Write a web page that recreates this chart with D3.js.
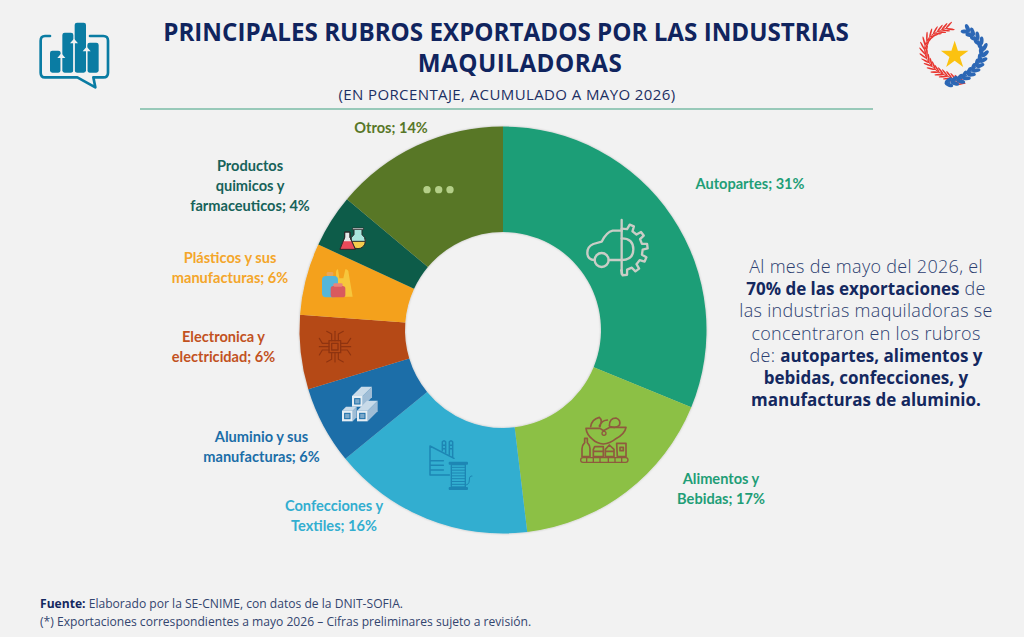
<!DOCTYPE html>
<html>
<head>
<meta charset="utf-8">
<title>Principales rubros exportados</title>
<script src="https://d3js.org/d3.v7.min.js"></script>
<style>
  html, body { margin: 0; padding: 0; background: #f2f2f2; }
  svg { display: block; }
  text { font-family: Lato, sans-serif; }
  .title { font-family: "Open Sans", sans-serif; font-weight: 700; font-size: 24.2px; fill: #10245e; text-anchor: middle; }
  .title2 { letter-spacing: 0.5px; }
  .subtitle { font-family: "Open Sans", sans-serif; font-size: 15px; letter-spacing: 0.4px; fill: #1c2f63; text-anchor: middle; }
  .label { font-weight: 700; font-size: 14.6px; text-anchor: middle; }
  .note { font-family: "Open Sans", sans-serif; font-size: 18px; letter-spacing: 0.3px; fill: #2c3e70; text-anchor: middle; font-weight: 300; }
  .note .b { font-weight: 700; font-size: 17px; letter-spacing: 0; fill: #14285f; }
  .foot { font-family: "Open Sans", sans-serif; font-size: 12.1px; fill: #33456f; }
  .foot .b { font-weight: 700; fill: #14285f; }
</style>
</head>
<body>
<svg id="main" width="1024" height="637"></svg>
<script>
// chart values (labels show them rounded)
const categories = ['Autopartes', 'Alimentos y Bebidas', 'Confecciones y Textiles', 'Aluminio y sus manufacturas',
  'Electronica y electricidad', 'Plásticos y sus manufacturas', 'Productos quimicos y farmaceuticos', 'Otros'];
const values = [31.2, 16.9, 16.0, 6.2, 5.9, 5.7, 4.2, 13.9];
const sliceColors = ['#1f9e77', '#8cc044', '#33aed0', '#1b6ea8', '#b54a16', '#f4a11a', '#0f5c4a', '#587728'];
const labelColors = ['#1f9e77', '#1f9e77', '#33aed0', '#1b6ea8', '#c2521f', '#f4a62a', '#17625a', '#587728'];
const labelLines = [['Autopartes;'], ['Alimentos y', 'Bebidas;'], ['Confecciones y', 'Textiles;'], ['Aluminio y sus', 'manufacturas;'],
  ['Electronica y', 'electricidad;'], ['Plásticos y sus', 'manufacturas;'], ['Productos', 'quimicos y', 'farmaceuticos;'], ['Otros;']];
const labelAnchors = [[750, 188.5], [721, 483.5], [334, 510.5], [261.5, 441.5], [223.5, 341.5], [230, 262.5], [250, 170.5], [391, 132.5]];

const noteLines = [
  [['Al mes de mayo del 2026, el', 0]],
  [['70% de las exportaciones', 1], [' de', 0]],
  [['las industrias maquiladoras se', 0]],
  [['concentraron en los rubros', 0]],
  [['de: ', 0], ['autopartes, alimentos y', 1]],
  [['bebidas, confecciones, y', 1]],
  [['manufacturas de aluminio.', 1]]
];

const svg = d3.select('svg#main');
const cx = 503, cy = 330, outerR = 203.5, innerR = 98;

// header
svg.append('text').attr('class', 'title').attr('x', 506).attr('y', 41).text('PRINCIPALES RUBROS EXPORTADOS POR LAS INDUSTRIAS');
svg.append('text').attr('class', 'title title2').attr('x', 520).attr('y', 72).text('MAQUILADORAS');
svg.append('text').attr('class', 'subtitle').attr('x', 507).attr('y', 100).text('(EN PORCENTAJE, ACUMULADO A MAYO 2026)');
svg.append('line').attr('x1', 140).attr('x2', 873).attr('y1', 109).attr('y2', 109)
  .attr('stroke', '#3f9f80').attr('stroke-width', 1.2);

// donut
const defs = svg.append('defs');
const shadow = defs.append('filter').attr('id', 'shadow').attr('x', '-10%').attr('y', '-10%').attr('width', '120%').attr('height', '120%');
shadow.append('feDropShadow').attr('dx', 0).attr('dy', 0).attr('stdDeviation', 1.2).attr('flood-color', '#000').attr('flood-opacity', 0.25);

const pie = d3.pie().sort(null).value(d => d);
const arc = d3.arc().innerRadius(innerR).outerRadius(outerR);
const arcs = pie(values);
const donut = svg.append('g').attr('transform', `translate(${cx},${cy})`).attr('filter', 'url(#shadow)');
donut.selectAll('path').data(arcs).join('path')
  .attr('d', arc)
  .attr('fill', (d, i) => sliceColors[i]);

// labels
const labels = svg.append('g').selectAll('text').data(categories).join('text')
  .attr('class', 'label')
  .attr('fill', (d, i) => labelColors[i]);
labels.each(function (d, i) {
  const lines = labelLines[i];
  d3.select(this).selectAll('tspan').data(lines).join('tspan')
    .attr('x', labelAnchors[i][0])
    .attr('y', (l, j) => labelAnchors[i][1] + j * 20)
    .text((l, j) => j === lines.length - 1 ? `${l} ${Math.round(values[i])}%` : l);
});

// side note
const note = svg.append('text').attr('class', 'note');
noteLines.forEach((line, i) => {
  const row = note.append('tspan').attr('x', 866).attr('y', 273 + i * 22.2);
  line.forEach(part => {
    row.append('tspan').attr('class', part[1] ? 'b' : null).text(part[0]);
  });
});

// footer
const foot1 = svg.append('text').attr('class', 'foot').attr('x', 40).attr('y', 608);
foot1.append('tspan').attr('class', 'b').text('Fuente:');
foot1.append('tspan').text(' Elaborado por la SE-CNIME, con datos de la DNIT-SOFIA.');
svg.append('text').attr('class', 'foot').attr('x', 40).attr('y', 626)
  .text('(*) Exportaciones correspondientes a mayo 2026 – Cifras preliminares sujeto a revisión.');

// helper: drawing in coordinates of a 3x crop whose corner is x0,y0
function crop(x0, y0) {
  return svg.append('g').attr('transform', `translate(${x0},${y0}) scale(${1 / 3})`);
}
function stroke(g, d, color, w) {
  return g.append('path').attr('d', d).attr('fill', 'none').attr('stroke', color).attr('stroke-width', w)
    .attr('stroke-linejoin', 'round').attr('stroke-linecap', 'round');
}

// logo, left
const logo = crop(0, 0);
stroke(logo, 'M150 108 H135 Q122 108 122 122 V218 Q122 232 135 232 H232 L286 262 L280 232 H310 Q324 232 324 218 V122 Q324 108 310 108 H270', '#0a7ca3', 8);
[[150, 152, 32, 66], [187, 98, 33, 120], [224, 68, 34, 150], [262, 128, 34, 90]].forEach(b => {
  logo.append('rect').attr('x', b[0]).attr('y', b[1]).attr('width', b[2]).attr('height', b[3]).attr('rx', 7).attr('fill', '#0a7ca3');
});
[[184, 160, 58], [222, 116, 102], [260, 140, 78]].forEach(a => {
  logo.append('path').attr('d', `M${a[0] - 12} ${a[1] + 14} L${a[0]} ${a[1]} L${a[0] + 12} ${a[1] + 14} H${a[0] + 2} V${a[1] + a[2]} H${a[0] - 2} V${a[1] + 14} Z`).attr('fill', '#f2f2f2');
});

// wreath, right
const wreath = crop(860, 0);
function leaves(pts, color, step, len, wid, spread) {
  const spine = stroke(wreath, d3.line().curve(d3.curveCatmullRom)(pts), color, 3);
  const node = spine.node(), total = node.getTotalLength();
  d3.range(0, total, step).forEach(s => {
    const p = node.getPointAtLength(s), q = node.getPointAtLength(s + 2);
    const a = Math.atan2(q.y - p.y, q.x - p.x) * 180 / Math.PI;
    [-spread, spread].forEach(off => {
      wreath.append('ellipse').attr('cx', len / 2).attr('cy', 0).attr('rx', len / 2).attr('ry', wid)
        .attr('fill', color)
        .attr('transform', `translate(${p.x},${p.y}) rotate(${a + off})`);
    });
  });
}
leaves([[315, 250], [270, 232], [225, 208], [197, 168], [196, 132], [215, 105], [258, 85]], '#e8352f', 14, 27, 2.4, 28);
leaves([[255, 250], [300, 238], [345, 205], [366, 172], [368, 145], [350, 115], [322, 92]], '#2c67b5', 18, 26, 6, 30);
wreath.append('path').attr('d', d3.symbol(d3.symbolStar, 2118)()).attr('transform', 'translate(284,166)').attr('fill', '#fbc210');

// icon: otros
const dots = crop(300, 170);
[381, 416, 450].forEach(x => dots.append('circle').attr('cx', x).attr('cy', 59).attr('r', 11).attr('fill', '#b4cf88'));

// icon: car and gear
const car = crop(570, 210), carC = '#c9cdc6';
stroke(car, 'M155 30 V192', carC, 7);
stroke(car, 'M155 62 H128 Q110 66 95 95 L70 102 Q52 110 52 128 Q52 150 74 150 M116 150 H155', carC, 7);
car.append('circle').attr('cx', 95).attr('cy', 150).attr('r', 21).attr('fill', 'none').attr('stroke', carC).attr('stroke-width', 7);
stroke(car, 'M155 85 Q190 85 190 118 Q190 150 155 150', carC, 7);
const gearPts = [[155, 56]];
d3.range(6).forEach(k => {
  const a0 = -75 + k * 30, a1 = a0 + 16;
  [[a0, 63], [a0 + 3, 78], [a1 - 3, 78], [a1, 63]].forEach(p => {
    const r = p[0] * Math.PI / 180;
    gearPts.push([155 + p[1] * Math.cos(r), 118 + p[1] * Math.sin(r)]);
  });
});
gearPts.push([155, 181]);
stroke(car, d3.line()(gearPts), carC, 7);

// icon: food
const food = crop(560, 410), foodC = '#8f5a3e';
stroke(food, 'M78 55 H120 L130 62 L150 52 H198 Q195 72 165 88 Q150 100 130 102 Q110 100 98 88 Q80 74 78 55 Z', foodC, 5);
stroke(food, 'M92 50 Q95 28 118 22 Q130 32 118 48 M120 50 Q122 32 142 30 M148 48 Q148 24 168 24 Q184 30 178 46 Q170 56 150 50', foodC, 5);
food.append('circle').attr('cx', 132).attr('cy', 70).attr('r', 6).attr('fill', 'none').attr('stroke', foodC).attr('stroke-width', 4);
food.append('rect').attr('x', 62).attr('y', 143).attr('width', 142).attr('height', 14).attr('rx', 7).attr('fill', 'none').attr('stroke', foodC).attr('stroke-width', 4);
[80, 100, 120, 145, 165, 185].forEach(x => stroke(food, `M${x} 144 V156`, foodC, 4));
stroke(food, 'M74 85 H82 V98 Q90 106 90 116 V140 H66 V116 Q66 106 74 98 Z', foodC, 5);
stroke(food, 'M104 110 H130 V140 H100 V118 Z M100 124 H130', foodC, 5);
stroke(food, 'M148 105 L162 118 V140 H136 V118 Z M136 124 H162', foodC, 5);
stroke(food, 'M170 100 H198 V140 H172 Z M180 112 H190 V122 H180 Z', foodC, 5);

// icon: factory and spool
const mill = crop(410, 430), millC = '#1d86b4';
stroke(mill, 'M60 135 V48 L132 85 M60 92 H100 M60 106 H100 M60 120 H100 M60 135 H118', millC, 4.5);
stroke(mill, 'M97 62 V36 Q102 28 107 36 V68 M97 46 H107 M97 56 H107 M118 74 V36 Q123 28 128 36 V80 M118 46 H128 M118 56 H128', millC, 4.5);
mill.append('rect').attr('x', 116).attr('y', 95).attr('width', 58).attr('height', 9).attr('rx', 3).attr('fill', millC);
mill.append('rect').attr('x', 116).attr('y', 171).attr('width', 58).attr('height', 9).attr('rx', 3).attr('fill', millC);
mill.append('rect').attr('x', 124).attr('y', 104).attr('width', 42).attr('height', 67).attr('fill', 'none').attr('stroke', millC).attr('stroke-width', 4);
d3.range(7).forEach(k => stroke(mill, `M124 ${112 + k * 8.5} H166`, millC, 3));
stroke(mill, 'M166 165 Q178 165 178 150 Q178 136 186 138', millC, 3);

// icon: aluminium profiles
const alu = crop(300, 310);
function profile(x, y, depth) {
  alu.append('path').attr('d', `M${x + 32} ${y} L${x + 32 + depth} ${y - depth} V${y + 32 - depth} L${x + 32} ${y + 32} Z`).attr('fill', '#9fbdd6');
  alu.append('path').attr('d', `M${x} ${y} L${x + depth} ${y - depth} H${x + 32 + depth} L${x + 32} ${y} Z`).attr('fill', '#c9dbe9');
  alu.append('rect').attr('x', x).attr('y', y).attr('width', 32).attr('height', 32).attr('fill', '#e6eef4');
  alu.append('rect').attr('x', x + 8).attr('y', y + 8).attr('width', 16).attr('height', 16).attr('fill', '#7ba8ca').attr('stroke', '#1b6ea8').attr('stroke-width', 3);
}
profile(156, 258, 28);
profile(126, 302, 12);
profile(171, 302, 30);

// icon: chip
const chip = crop(300, 310), chipC = '#8f3410';
stroke(chip, 'M87 92 H122 V128 H87 Z M95 100 H114 V120 H95 Z', chipC, 4);
[-1, 0, 1].forEach(k => {
  stroke(chip, `M${105 + k * 10} 92 V${k ? 72 : 64} L${105 + k * 25} 64`, chipC, 3.5);
  stroke(chip, `M${105 + k * 10} 128 V${k ? 148 : 156} L${105 + k * 25} 156`, chipC, 3.5);
  stroke(chip, `M87 ${110 + k * 10} H${k ? 67 : 58} L58 ${110 + k * 25}`, chipC, 3.5);
  stroke(chip, `M122 ${110 + k * 10} H${k ? 142 : 152} L152 ${110 + k * 25}`, chipC, 3.5);
});

// icon: plastics
const pl = crop(300, 170);
pl.append('path').attr('d', 'M108 310 Q108 298 114 298 L118 325 H130 L136 298 Q146 298 146 310 L158 380 H112 Z').attr('fill', '#f7c63c');
pl.append('rect').attr('x', 66).attr('y', 318).attr('width', 48).attr('height', 64).attr('rx', 12).attr('fill', '#55b6d8');
pl.append('rect').attr('x', 80).attr('y', 306).attr('width', 20).attr('height', 12).attr('rx', 4).attr('fill', '#e9a75a');
pl.append('rect').attr('x', 92).attr('y', 348).attr('width', 44).attr('height', 34).attr('rx', 8).attr('fill', '#d95a5e');
pl.append('rect').attr('x', 100).attr('y', 340).attr('width', 28).attr('height', 10).attr('rx', 4).attr('fill', '#e8847a');

// icon: flasks
const fl = crop(300, 170), flS = '#2b2b2b';
fl.append('circle').attr('cx', 174).attr('cy', 214).attr('r', 22).attr('fill', '#f6cc4d').attr('stroke', flS).attr('stroke-width', 3);
fl.append('path').attr('d', 'M162 178 H186 V194 Q196 200 196 214 H152 Q152 200 162 194 Z').attr('fill', '#a9e6dc').attr('stroke', flS).attr('stroke-width', 3);
fl.append('rect').attr('x', 158).attr('y', 174).attr('width', 32).attr('height', 5).attr('fill', '#dfe8e8').attr('stroke', flS).attr('stroke-width', 2);
fl.append('path').attr('d', 'M134 186 H150 V202 L166 238 H120 L134 202 Z').attr('fill', '#e8e8e8').attr('stroke', flS).attr('stroke-width', 3);
fl.append('path').attr('d', 'M129 214 H156 L165 238 H120 Z').attr('fill', '#ea4a5a');
fl.append('path').attr('d', 'M134 186 H150 V202 L166 238 H120 L134 202 Z').attr('fill', 'none').attr('stroke', flS).attr('stroke-width', 3);
</script>
</body>
</html>
